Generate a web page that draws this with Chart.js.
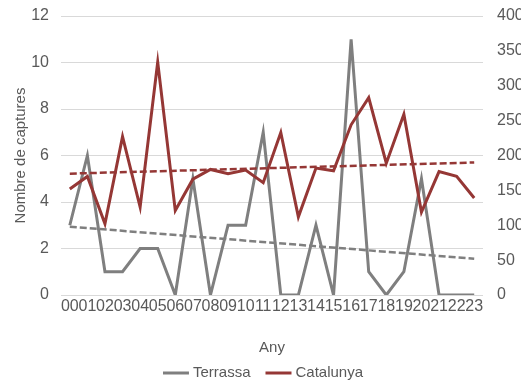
<!DOCTYPE html>
<html>
<head>
<meta charset="utf-8">
<script src="https://cdn.jsdelivr.net/npm/chart.js@4.4.1/dist/chart.umd.min.js"></script>
<style>
  html, body { margin: 0; padding: 0; background: #fff; }
  #wrap { width: 521px; height: 382px; }
</style>
</head>
<body>
<div id="wrap"><canvas id="capturesChart"></canvas></div>
<script>
// years shown as two digits on the x axis
const years = ['00','01','02','03','04','05','06','07','08','09','10','11',
               '12','13','14','15','16','17','18','19','20','21','22','23'];
// captures, left axis
const terrassa = [3, 6, 1, 1, 2, 2, 0, 5, 0, 3, 3, 7, 0, 0, 3, 0, 11, 1, 0, 1, 5, 0, 0, 0];
// captures, right axis
const catalunya = [152, 170, 102, 227, 126, 334, 121, 166, 180, 174, 179, 161,
                   233, 112, 182, 178, 244, 283, 189, 259, 119, 177, 170, 139];
// linear trend ends (first and last year)
const terrassaTrend = [2.94, 1.56];
const catalunyaTrend = [174, 190];

const leftTicks = [0, 2, 4, 6, 8, 10, 12];
const rightTicks = [0, 50, 100, 150, 200, 250, 300, 350, 400];

const GREY = '#7f7f7f';
const RED = '#953735';
const TEXT = '#595959';
const FONT = '"Liberation Sans", Arial, sans-serif';

Chart.defaults.font.family = FONT;
Chart.defaults.color = TEXT;

const trendPoints = (ends) => [
    { x: years[0], y: ends[0] },
    { x: years[years.length - 1], y: ends[1] }
];

// small legend drawn under the axis title, Excel style (short line + label)
const bottomLegend = {
    id: 'bottomLegend',
    afterDraw(chart) {
        const ctx = chart.ctx;
        const items = chart.data.datasets.filter(ds => !ds.label.startsWith('trend'));
        const lineLen = 26, gap = 4, itemGap = 15;
        ctx.save();
        ctx.font = '15px ' + FONT;
        ctx.textBaseline = 'middle';
        let total = 0;
        items.forEach((ds, i) => {
            total += lineLen + gap + ctx.measureText(ds.label).width + (i ? itemGap : 0);
        });
        let x = 263 - total / 2;
        const y = 373;
        items.forEach((ds, i) => {
            if (i) x += itemGap;
            ctx.strokeStyle = ds.borderColor; ctx.lineWidth = 3;
            ctx.beginPath(); ctx.moveTo(x, y); ctx.lineTo(x + lineLen, y); ctx.stroke();
            x += lineLen + gap;
            ctx.fillStyle = TEXT;
            ctx.fillText(ds.label, x, y);
            x += ctx.measureText(ds.label).width;
        });
        ctx.restore();
    }
};

// fixed axis sizes so the plot area lands where the original has it
const fitY = width => axis => {
    axis.width = width;
    axis.paddingTop = 0;
    axis.paddingBottom = 0;
};

const data = {
    labels: years,
    datasets: [
        {
            label: 'Terrassa', data: terrassa, yAxisID: 'y',
            borderColor: GREY, backgroundColor: GREY, borderWidth: 3,
            pointRadius: 0, tension: 0, order: 2
        },
        {
            label: 'Catalunya', data: catalunya, yAxisID: 'y1',
            borderColor: RED, backgroundColor: RED, borderWidth: 3,
            pointRadius: 0, tension: 0, order: 1
        },
        {
            label: 'trend-terrassa', data: trendPoints(terrassaTrend), yAxisID: 'y',
            borderColor: GREY, borderWidth: 2.5, borderDash: [7, 3],
            pointRadius: 0, spanGaps: true, order: 0
        },
        {
            label: 'trend-catalunya', data: trendPoints(catalunyaTrend), yAxisID: 'y1',
            borderColor: RED, borderWidth: 2.5, borderDash: [7, 3],
            pointRadius: 0, spanGaps: true, order: 0
        }
    ]
};

const config = {
    type: 'line', data: data,
    plugins: [bottomLegend],
    options: {
        responsive: true, maintainAspectRatio: false,
        animation: false,
        layout: { padding: { top: 16, left: 0, right: 0, bottom: 0 } },
        scales: {
            x: {
                offset: true,
                afterFit: axis => { axis.height = 87; },
                grid: { display: false, drawTicks: false },
                border: { display: false },
                ticks: {
                    autoSkip: false, maxRotation: 0, minRotation: 0,
                    color: TEXT, font: { size: 16 }, padding: 2
                },
                title: { display: true, text: 'Any', color: TEXT, font: { size: 15 }, padding: { top: 0, bottom: 25 } }
            },
            y: {
                position: 'left', min: 0, max: 12,
                afterBuildTicks: axis => { axis.ticks = leftTicks.map(v => ({ value: v })); },
                afterFit: fitY(61),
                grid: { color: '#d9d9d9', lineWidth: 1, drawTicks: false },
                border: { display: false },
                ticks: { color: TEXT, font: { size: 16 }, padding: 12 },
                title: { display: true, text: 'Nombre de captures', color: TEXT, font: { size: 15 }, padding: { top: 12, bottom: 0 } }
            },
            y1: {
                position: 'right', min: 0, max: 400,
                afterBuildTicks: axis => { axis.ticks = rightTicks.map(v => ({ value: v })); },
                afterFit: fitY(38),
                grid: { display: false, drawTicks: false },
                border: { display: false },
                ticks: { color: TEXT, font: { size: 16 }, padding: 14 }
            }
        },
        plugins: {
            legend: { display: false },
            tooltip: { enabled: false }
        }
    }
};

const ctx = document.getElementById('capturesChart').getContext('2d');
new Chart(ctx, config);
</script>
</body>
</html>
